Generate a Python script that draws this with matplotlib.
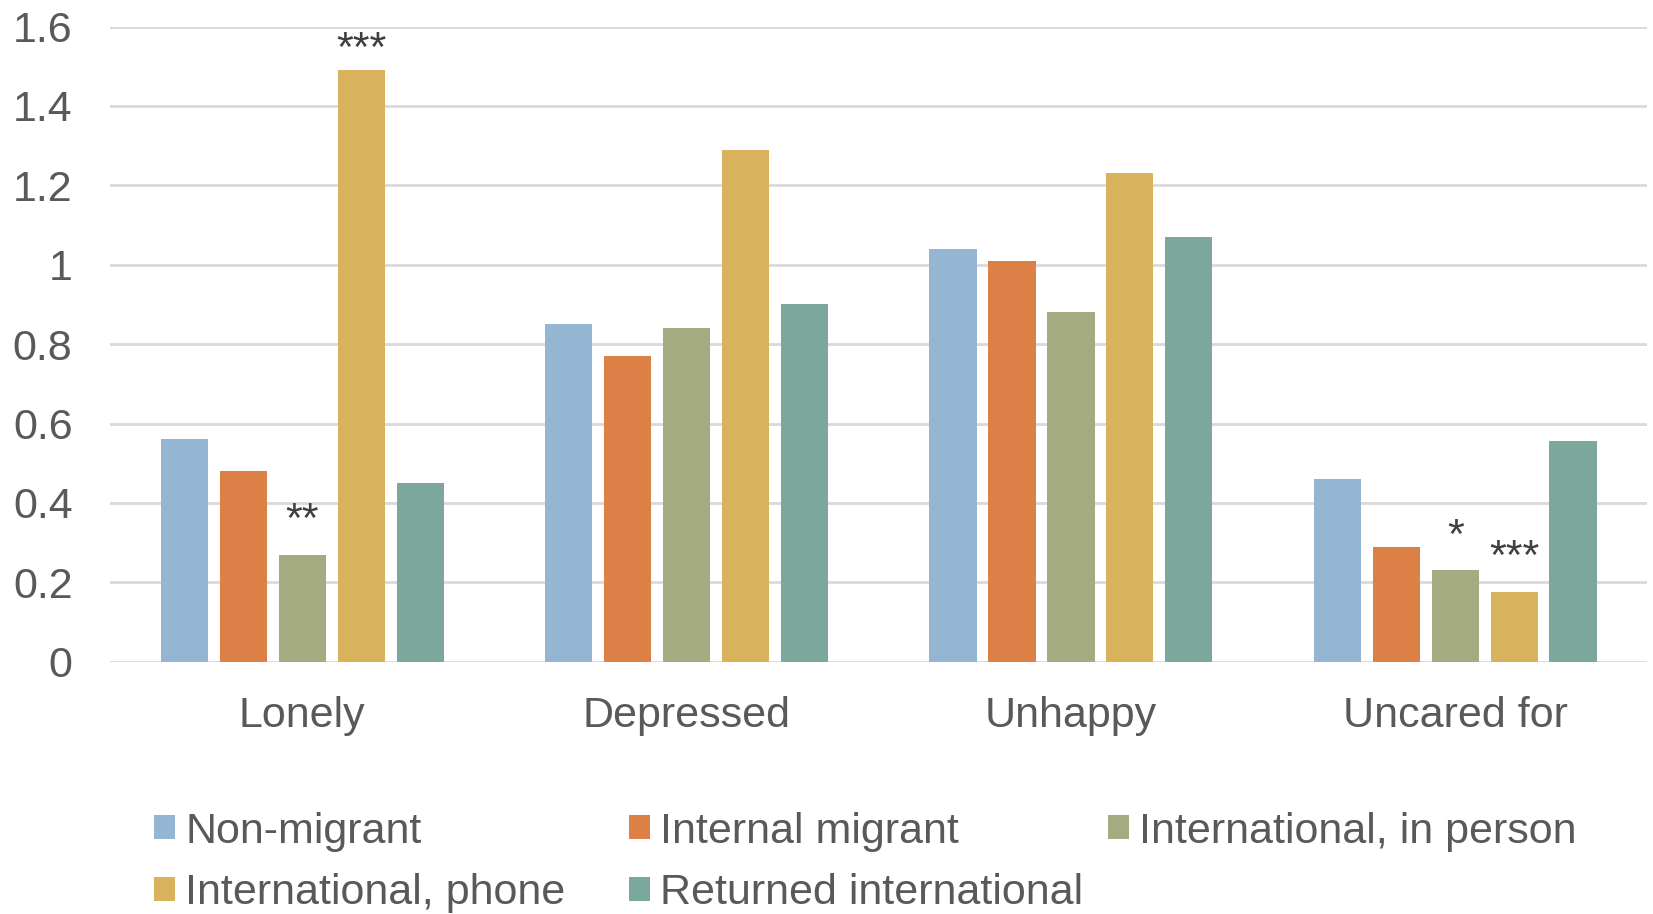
import numpy as np
import matplotlib
matplotlib.use("Agg")
import matplotlib.pyplot as plt
from matplotlib.patches import Patch

plt.rcParams["font.family"] = ["Liberation Sans", "DejaVu Sans"]

CATEGORIES = ["Lonely", "Depressed", "Unhappy", "Uncared for"]
GROUPS = ["Non-migrant", "Internal migrant", "International, in person",
          "International, phone", "Returned international"]
COLORS = ["#95B6D3", "#DD8047", "#A5AB81", "#D8B25C", "#7BA79D"]

# rows follow GROUPS, columns follow CATEGORIES
VALUES = [
    [0.56, 0.85, 1.04, 0.46],
    [0.48, 0.77, 1.01, 0.29],
    [0.27, 0.84, 0.88, 0.23],
    [1.49, 1.29, 1.23, 0.175],
    [0.45, 0.90, 1.07, 0.555],
]
# significance stars: (group index, category index, label)
STARS = [(2, 0, "**"), (3, 0, "***"), (2, 3, "*"), (3, 3, "***")]

TEXT = "#595959"
GRID = "#D9D9D9"
FS = 31

fig = plt.figure(figsize=(16.53, 9.14), dpi=100)
ax = fig.add_axes([0.0666, 0.276, 0.930, 0.695])

x = np.arange(len(CATEGORIES))
step = 0.1534
width = 0.123
handles = []
for i, (name, vals) in enumerate(zip(GROUPS, VALUES)):
    off = (i - 2) * step
    ax.bar(x + off, vals, width, color=COLORS[i], zorder=3)
    handles.append(Patch(facecolor=COLORS[i], label=name))

# stars sit just above the bar, kept inside the plot near the top
for g, c, s in STARS:
    y = min(VALUES[g][c] + 0.035, 1.49)
    ax.text(x[c] + (g - 2) * step, y, s, ha="center",
            va="bottom", fontsize=FS, color="#404040")

ax.set_xlim(-0.5, 3.5)
ax.set_ylim(0, 1.6)
ax.set_yticks(np.arange(0, 1.61, 0.2))
ax.set_yticklabels(["0", "0.2", "0.4", "0.6", "0.8", "1", "1.2", "1.4", "1.6"])
ax.set_xticks(x)
ax.set_xticklabels(CATEGORIES)
ax.tick_params(axis="both", length=0, labelsize=FS, colors=TEXT)
ax.tick_params(axis="y", pad=27)
ax.tick_params(axis="x", pad=25)
ax.grid(axis="y", color=GRID, linewidth=2, zorder=0)
for sp in ax.spines.values():
    sp.set_visible(False)

# legend laid out in equal-width columns, read row by row
columns = [[0, 3], [1, 4], [2]]
col_x = [0.0932, 0.3807, 0.6703]
for cx, idx in zip(col_x, columns):
    leg = fig.legend([handles[k] for k in idx], [GROUPS[k] for k in idx],
                     loc="upper left", bbox_to_anchor=(cx, 0.112), ncol=1,
                     frameon=False, fontsize=FS, handlelength=0.48,
                     handleheight=0.48, handletextpad=0.24, labelspacing=0.5,
                     borderpad=0, borderaxespad=0, labelcolor=TEXT)

fig.savefig("out.png", dpi=100)
